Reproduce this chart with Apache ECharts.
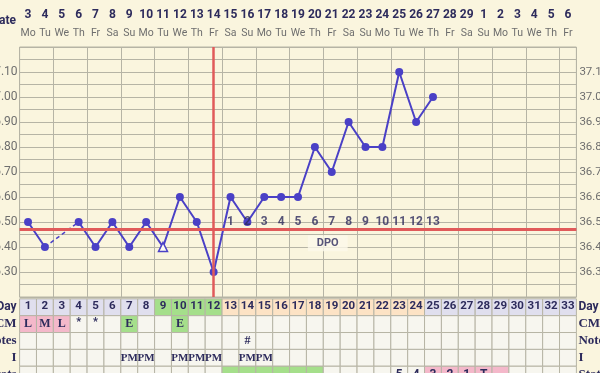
<!DOCTYPE html>
<html>
<head>
<meta charset="utf-8">
<script src="https://cdn.jsdelivr.net/npm/echarts@6/dist/echarts.min.js"></script>
<style>
html,body{margin:0;padding:0;background:#faf5de;}
#c{width:600px;height:373px;}
</style>
</head>
<body>
<div id="c"></div>
<script>
// ---------- data ----------
const days = ['1','2','3','4','5','6','7','8','9','10','11','12','13','14','15','16','17','18','19','20','21','22','23','24','25','26','27','28','29','30','31','32','33'];
const dates = ['3','4','5','6','7','8','9','10','11','12','13','14','15','16','17','18','19','20','21','22','23','24','25','26','27','28','29','1','2','3','4','5','6'];
const weekdays = ['Mo','Tu','We','Th','Fr','Sa','Su','Mo','Tu','We','Th','Fr','Sa','Su','Mo','Tu','We','Th','Fr','Sa','Su','Mo','Tu','We','Th','Fr','Sa','Su','Mo','Tu','We','Th','Fr'];
const temps = [36.50,36.40,null,36.50,36.40,36.50,36.40,36.50,36.40,36.60,36.50,36.30,36.60,36.50,36.60,36.60,36.60,36.80,36.70,36.90,36.80,36.80,37.10,36.90,37.00,null,null,null,null,null,null,null,null];
const openDays = ['9'];
const coverline = 36.465;
const ovulationDay = '12';
const dpoDays = ['13','14','15','16','17','18','19','20','21','22','23','24','25'];
const dpoLabels = ['1','2','3','4','5','6','7','8','9','10','11','12','13'];
const dpoTitleDay = '19';
const yTickLeft = ['37.10','37.00','36.90','36.80','36.70','36.60','36.50','36.40','36.30'];
const rowNames = ['Day','CM','Notes','I','Stats'];
const cmRow = ['L','M','L','*','*','','E','','','E','','','','','','','','','','','','','','','','','','','','','','',''];
const notesRow = ['','','','','','','','','','','','','','#','','','','','','','','','','','','','','','','','','',''];
const iRow = ['','','','','','','PM','PM','','PM','PM','PM','','PM','PM','','','','','','','','','','','','','','','','','',''];
const statsRow = ['','','','','','','','','','','','','','','','','','','','','','','5','4','3','2','1','T','','','','',''];
const fertileDays = ['9','10','11','12'];
const lutealDays = ['13','14','15','16','17','18','19','20','21','22','23','24'];
const statsGreenDays = ['13','14','15','16','17','18'];
const statsPinkDays = ['25','26','27','28','29'];

// ---------- styles ----------
const BG = '#faf5de', GRIDC = '#b6b4a5', NAVY = '#2d2b5c', LINE = '#4a40c6', RED = '#e05a5a', GRAYT = '#6e6e6e';
const CELL = '#f7f6ef', LAV = '#e0dfee', GREEN = '#a5df8b', PEACH = '#fde3c5', PINK = '#f4b8ca';
const SANS = 'Roboto, "DejaVu Sans", sans-serif';
const SERIF = '"Liberation Serif", "DejaVu Serif", serif';

// main line data
const mainData = temps.map((t, i) => {
  if (t === null) return null;
  if (openDays.indexOf(days[i]) >= 0) {
    return {value: t, symbol: 'triangle', symbolSize: 9, itemStyle: {color: '#fffdf2', borderColor: LINE, borderWidth: 1.5}};
  }
  return t;
});
// dashed bridges over missing days
const gapData = temps.map(() => null);
for (let i = 1; i < temps.length - 1; i++) {
  if (temps[i] === null && temps[i-1] !== null) {
    let j = i; while (j < temps.length && temps[j] === null) j++;
    if (j < temps.length) { gapData[i-1] = temps[i-1]; gapData[j] = temps[j]; }
  }
}

// table cells
const rowsText = [days, cmRow, notesRow, iRow, statsRow];
const cells = [];
rowsText.forEach((row, r) => {
  row.forEach((txt, d) => {
    const day = days[d];
    let fill = CELL, font = 'bold 12px ' + SERIF, dy = 0;
    if (r === 0) {
      fill = fertileDays.indexOf(day) >= 0 ? GREEN : (lutealDays.indexOf(day) >= 0 ? PEACH : LAV);
      font = 'bold 11.5px ' + SANS; dy = -1;
    } else if (r === 1) {
      if (txt === 'L' || txt === 'M') fill = PINK;
      else if (txt === 'E') fill = GREEN;
      if (txt === '*') { font = 'bold 11px ' + SANS; dy = -2; }
    } else if (r === 3) {
      font = 'bold 11px ' + SERIF;
    } else if (r === 4) {
      if (statsGreenDays.indexOf(day) >= 0) fill = GREEN;
      if (statsPinkDays.indexOf(day) >= 0) fill = PINK;
      font = 'bold 12px ' + SANS;
    }
    cells.push({value: [d, r], text: txt, fill: fill, font: font, dy: dy});
  });
});

const chart = echarts.init(document.getElementById('c'), null, {renderer: 'canvas'});

const fmtLeft = v => {
  const h = Math.round(v * 100);
  if (h % 10 !== 0) return '';
  const s = (h / 100).toFixed(2);
  return yTickLeft.indexOf(s) >= 0 ? s : '';
};
const fmtRight = v => {
  const h = Math.round(v * 100);
  if (h % 10 !== 0) return '';
  const s = (h / 100).toFixed(2);
  return yTickLeft.indexOf(s) >= 0 ? (h / 100).toFixed(1) : '';
};

const hidden = {axisLine: {show: false}, axisTick: {show: false}};

chart.setOption({
  animation: false,
  backgroundColor: BG,
  grid: [
    {left: 19.6, width: 556.8, top: 47, height: 250, show: true, borderColor: GRIDC, borderWidth: 1, containLabel: false, outerBoundsMode: 'none'},
    {left: 19.6, width: 556.8, top: 298.8, height: 84.3, containLabel: false, outerBoundsMode: 'none'}
  ],
  xAxis: [
    Object.assign({type: 'category', data: days, gridIndex: 0, boundaryGap: true,
      axisLabel: {show: false}, splitLine: {show: true, lineStyle: {color: GRIDC, width: 1}}}, hidden),
    Object.assign({type: 'category', data: dates, gridIndex: 0, position: 'top',
      axisLabel: {show: true, interval: 0, margin: 26, color: NAVY, fontFamily: SANS, fontWeight: 'bold', fontSize: 12},
      splitLine: {show: false}}, hidden),
    Object.assign({type: 'category', data: weekdays, gridIndex: 0, position: 'top', offset: 0,
      axisLabel: {show: true, interval: 0, margin: 8, color: GRAYT, fontFamily: SANS, fontSize: 10.5},
      splitLine: {show: false}}, hidden),
    Object.assign({type: 'category', data: days, gridIndex: 1, boundaryGap: true,
      axisLabel: {show: false}, splitLine: {show: false}}, hidden)
  ],
  yAxis: [
    Object.assign({type: 'value', gridIndex: 0, min: 36.2, max: 37.2, interval: 0.05, position: 'left',
      axisLabel: {formatter: fmtLeft, color: GRAYT, fontFamily: SANS, fontSize: 12, margin: 2},
      splitLine: {show: true, lineStyle: {color: GRIDC, width: 1}}}, hidden),
    Object.assign({type: 'value', gridIndex: 0, min: 36.2, max: 37.2, interval: 0.05, position: 'right',
      axisLabel: {formatter: fmtRight, color: GRAYT, fontFamily: SANS, fontSize: 11.5, margin: 3},
      splitLine: {show: false}}, hidden),
    Object.assign({type: 'category', gridIndex: 1, data: rowNames, inverse: true, position: 'left',
      axisLabel: {margin: 3, interval: 0, color: NAVY,
        formatter: v => v === 'Day' ? '{s|' + v + '}' : '{f|' + v + '}',
        rich: {s: {fontFamily: SANS, fontWeight: 'bold', fontSize: 12, color: NAVY},
               f: {fontFamily: SERIF, fontWeight: 'bold', fontSize: 13, color: NAVY}}},
      splitLine: {show: false}}, hidden),
    Object.assign({type: 'category', gridIndex: 1, data: rowNames, inverse: true, position: 'right',
      axisLabel: {margin: 2, interval: 0, color: NAVY,
        formatter: v => v === 'Day' ? '{s|' + v + '}' : '{f|' + v + '}',
        rich: {s: {fontFamily: SANS, fontWeight: 'bold', fontSize: 12, color: NAVY},
               f: {fontFamily: SERIF, fontWeight: 'bold', fontSize: 13, color: NAVY}}},
      splitLine: {show: false}}, hidden)
  ],
  graphic: [
    {type: 'text', right: 584, top: 15, style: {text: 'Date', fill: NAVY, font: 'bold 12px ' + SANS}}
  ],
  series: [
    {
      type: 'line', xAxisIndex: 0, yAxisIndex: 0, data: gapData, connectNulls: true,
      symbol: 'none', lineStyle: {color: LINE, width: 1.5, type: [4, 3]}, z: 3
    },
    {
      type: 'line', xAxisIndex: 0, yAxisIndex: 0, data: mainData, connectNulls: false,
      symbol: 'circle', symbolSize: 8, itemStyle: {color: LINE}, lineStyle: {color: LINE, width: 2}, z: 4,
      markLine: {
        silent: true, symbol: 'none', label: {show: false},
        data: [
          {yAxis: coverline, lineStyle: {color: RED, width: 3, type: 'solid'}},
          {xAxis: ovulationDay, lineStyle: {color: RED, width: 2.5, type: 'solid'}}
        ]
      }
    },
    {
      type: 'scatter', xAxisIndex: 0, yAxisIndex: 0, symbolSize: 0, z: 6,
      data: dpoDays.map((d, i) => ({value: [d, 36.50], name: dpoLabels[i]})),
      label: {show: true, position: 'inside', formatter: p => p.name, color: NAVY, fontFamily: SANS, fontWeight: 'bold', fontSize: 12}
    },
    {
      type: 'scatter', xAxisIndex: 0, yAxisIndex: 0, symbolSize: 0, z: 6,
      data: [{value: [dpoTitleDay, 36.415], name: 'DPO'}],
      label: {show: true, position: 'inside', offset: [-4, 0], formatter: p => p.name, color: NAVY, fontFamily: SANS, fontWeight: 'bold', fontSize: 11,
        backgroundColor: '#fcf9ea', padding: [3, 9, 2, 9]}
    },
    {
      type: 'custom', xAxisIndex: 3, yAxisIndex: 2, data: cells.map(c => c.value), z: 2,
      renderItem: function (params, api) {
        const c = api.coord([api.value(0), api.value(1)]);
        const s = api.size([1, 1]);
        const cell = cells[params.dataIndex];
        return {type: 'group', children: [
          {type: 'rect', shape: {x: c[0] - s[0] / 2, y: c[1] - s[1] / 2, width: s[0], height: s[1]},
           style: {fill: cell.fill, stroke: GRIDC, lineWidth: 1}},
          {type: 'text', x: c[0], y: c[1] + cell.dy,
           style: {text: cell.text, fill: NAVY, font: cell.font, align: 'center', verticalAlign: 'middle'}}
        ]};
      }
    }
  ]
});
</script>
</body>
</html>
